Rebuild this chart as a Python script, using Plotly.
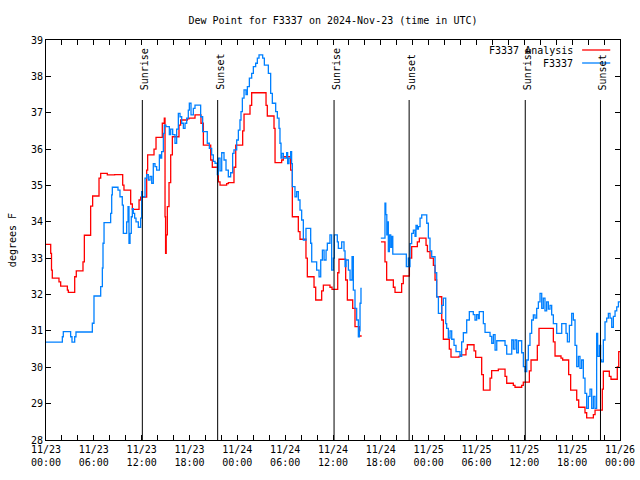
import pandas as pd
import plotly.graph_objects as go

START = pd.Timestamp("2024-11-23 00:00")

# ---- data (hours since 2024-11-23 00:00 UTC, degrees F) ----
red_hours = [0.0, 0.59, 0.69, 0.79, 1.63, 1.84, 2.68, 2.8, 3.6, 3.8, 4.64, 4.81, 5.6, 5.85,
             6.65, 6.86, 7.69, 8.61, 9.62, 9.78, 10.62, 10.83, 11.67, 11.87, 12.63, 12.75,
             13.55, 13.8, 14.59, 14.84, 14.93, 15.0, 15.08, 15.22, 15.43, 15.64, 15.85,
             16.68, 16.89, 17.73, 17.94, 18.69, 19.44, 19.74, 20.66, 20.86, 21.62, 21.83,
             22.66, 22.87, 23.58, 23.8, 24.67, 24.84, 25.59, 25.8, 27.6, 27.76, 28.6, 28.73,
             29.56, 29.77, 30.69, 30.9, 31.65, 31.86, 32.61, 32.78, 33.62, 33.83, 34.58,
             34.79, 35.62, 35.88, 36.59, 36.75, 37.59, 37.8, 38.47, 38.76, 39.3, 39.6,
             None,
             42.02, 42.52, 42.73, 43.57, 43.78, 44.61, 44.82, 45.58, 45.87, 46.58, 46.83,
             47.67, 47.84, 48.17, 48.59, 48.8, 49.0, 49.64, 49.84, 50.59, 50.8, 51.8, 52.0,
             52.68, 52.85, 53.69, 53.9, 54.65, 54.86, 55.7, 55.9, 56.74, 57.58, 57.79, 58.62,
             58.83, 59.67, 59.87, 60.63, 60.84, 61.63, 61.84, 63.64, 63.85, 64.6, 64.81,
             65.56, 65.81, 66.57, 66.82, 67.61, 67.82, 68.66, 68.87, 69.78, 69.91, 70.66,
             70.87, 71.66, 71.84, 72.0]
red_values = [33.38, 33.13, 32.67, 32.45, 32.35, 32.23, 32.12, 32.06, 32.49, 32.65, 32.9, 33.63,
              34.43, 34.71, 35.2, 35.33, 35.29, 35.3, 35.01, 34.87, 34.49, 34.34, 34.6, 34.68,
              35.42, 35.84, 36.0, 36.32, 36.71, 36.85, 34.14, 33.13, 33.64, 34.42, 35.08,
              35.84, 36.34, 36.66, 36.8, 36.83, 36.85, 36.94, 36.71, 36.11, 35.7, 35.5, 35.1,
              35.01, 35.05, 35.08, 35.5, 36.11, 36.5, 36.96, 37.2, 37.55, 37.2, 36.91, 36.57,
              35.63, 35.7, 35.79, 35.42, 34.14, 33.73, 33.52, 33.0, 32.49, 32.2, 31.85, 32.1,
              32.26, 32.2, 32.14, 32.6, 32.97, 32.4, 31.85, 31.62, 31.12, 30.86, 30.86,
              None,
              33.45, 32.9, 32.4, 32.2, 32.06, 32.3, 32.51, 33.0, 33.32, 33.45, 33.55, 33.35,
              33.18, 33.0, 32.8, 32.4, 31.94, 31.3, 30.77, 30.5, 30.28, 30.3, 30.34, 30.5,
              30.62, 30.45, 30.27, 29.8, 29.37, 29.7, 29.91, 29.95, 29.75, 29.56, 29.5, 29.45,
              29.5, 29.59, 29.9, 30.2, 30.6, 31.07, 30.7, 30.31, 30.25, 30.2, 29.8, 29.37,
              29.1, 28.9, 28.75, 28.61, 28.7, 28.82, 29.4, 29.89, 29.75, 29.67, 30.01, 30.43,
              30.43]

blue_hours = [0.0, 2.05, 2.17, 3.09, 3.26, 3.6, 3.76, 5.81, 6.02, 6.86, 7.07, 7.15, 7.28, 8.11,
              8.24, 8.32, 9.03, 9.28, 9.57, 9.7, 10.12, 10.29, 10.41, 10.54, 10.7, 10.83,
              10.95, 11.12, 11.29, 11.58, 11.87, 12.0, 12.1, 12.42, 12.63, 12.84, 13.05,
              13.26, 13.46, 13.67, 13.88, 14.22, 14.38, 14.51, 14.72, 14.84, 15.05, 15.47,
              15.64, 15.89, 16.18, 16.39, 16.6, 16.81, 17.02, 17.23, 17.44, 17.65, 17.85,
              17.98, 18.19, 18.48, 18.69, 19.4, 19.65, 20.23, 20.49, 20.78, 20.99, 21.2,
              21.49, 21.62, 21.83, 22.04, 22.33, 22.58, 22.87, 23.16, 23.41, 23.58, 23.92,
              24.13, 24.33, 24.46, 24.63, 24.84, 25.09, 25.26, 25.51, 25.8, 26.01, 26.3,
              26.51, 26.72, 27.18, 27.39, 27.89, 28.18, 28.39, 28.81, 29.02, 29.23, 29.35,
              29.48, 29.56, 29.77, 30.19, 30.31, 30.48, 30.69, 30.81, 30.9, 31.23, 31.44,
              31.65, 31.86, 32.07, 32.28, 32.61, 33.2, 33.33, 33.95, 34.25, 34.46, 34.67,
              34.88, 35.13, 35.29, 35.62, 35.83, 36.04, 36.17, 36.54, 36.67, 37.09, 37.38,
              37.51, 37.63, 37.93, 38.14, 38.39, 38.55, 38.76, 38.97, 39.18, 39.3, 39.39,
              39.51, 39.6,
              None,
              42.0, 42.52, 42.62, 42.75, 42.81, 42.94, 43.07, 43.24, 43.36, 43.5, 45.2, 45.45,
              45.58, 45.66, 45.87, 46.08, 46.29, 46.41, 46.58, 46.71, 46.92, 47.13, 47.76,
              47.96, 48.17, 48.38, 48.8, 49.01, 49.22, 49.64, 49.84, 50.14, 50.26, 50.47,
              50.68, 50.89, 51.18, 51.43, 51.93, 52.14, 52.35, 52.77, 53.1, 53.6, 53.81,
              54.02, 54.23, 54.35, 54.86, 55.07, 55.7, 55.91, 56.12, 56.33, 56.54, 57.58,
              57.79, 58.42, 58.62, 58.83, 59.04, 59.25, 59.67, 59.88, 60.09, 60.3, 60.5,
              60.71, 60.92, 61.13, 61.34, 61.55, 61.76, 61.97, 62.18, 62.38, 62.59, 62.8,
              63.01, 63.22, 63.43, 63.64, 64.06, 64.48, 64.69, 65.23, 65.4, 65.65, 65.94,
              66.15, 66.36, 66.57, 66.78, 66.98, 67.19, 67.4, 67.61, 67.82, 68.03, 68.24,
              68.45, 68.66, 68.86, 69.07, 69.2, 69.41, 69.57, 69.7, 69.91, 70.12, 70.33,
              70.54, 70.75, 70.96, 71.17, 71.38, 71.59, 71.8, 72.0]
blue_values = [30.69, 30.84, 30.98, 30.84, 30.69, 30.84, 30.97, 31.21, 31.96, 32.22, 32.73,
               33.41, 33.98, 34.23, 34.74, 34.95, 34.87, 34.69, 34.46, 33.68, 34.0, 34.42,
               33.41, 33.68, 34.14, 34.36, 34.23, 34.1, 34.0, 33.85, 34.1, 34.83, 34.69, 35.2,
               35.3, 35.15, 35.25, 35.06, 35.6, 35.52, 35.42, 35.84, 35.75, 35.93, 36.43,
               36.66, 36.62, 36.4, 36.55, 36.4, 36.16, 36.55, 36.98, 36.89, 36.71, 36.57,
               36.71, 36.85, 37.07, 37.26, 36.94, 37.12, 37.21, 36.89, 36.48, 36.16, 36.02,
               35.84, 35.66, 35.61, 35.3, 35.75, 35.4, 35.9, 35.7, 35.42, 35.24, 35.35, 35.88,
               35.98, 36.25, 36.52, 36.8, 37.03, 37.4, 37.63, 37.5, 37.72, 37.95, 38.08,
               38.27, 38.36, 38.5, 38.59, 38.5, 38.31, 38.08, 37.53, 37.26, 37.03, 36.85,
               36.57, 36.16, 35.75, 35.88, 35.75, 35.9, 35.6, 35.75, 35.93, 35.6, 34.97,
               34.69, 34.83, 34.6, 34.32, 34.05, 33.5, 33.82, 33.41, 32.9, 32.67, 32.49,
               32.95, 33.22, 32.95, 33.22, 33.41, 33.64, 32.67, 33.0, 33.64, 33.45, 33.27,
               33.45, 33.2, 32.77, 32.95, 32.67, 32.4, 33.04, 32.12, 31.62, 31.3, 30.84, 31.0,
               31.76, 32.17, 32.17,
               None,
               33.55, 34.51, 34.2, 33.64, 34.0, 33.18, 33.64, 33.3, 33.6, 33.11, 32.77, 33.0,
               32.77, 33.4, 33.68, 33.77, 33.6, 33.9, 33.8, 33.87, 34.1, 34.19, 33.96, 33.55,
               33.2, 33.04, 32.6, 31.94, 31.48, 31.7, 31.9, 31.2, 31.07, 30.8, 31.0, 30.77,
               30.6, 30.43, 30.3, 30.7, 30.95, 31.3, 31.53, 31.45, 31.3, 31.45, 31.34, 31.53,
               31.2, 30.96, 30.85, 30.66, 30.9, 30.47, 30.73, 30.6, 30.36, 30.75, 30.5,
               30.75, 30.4, 30.73, 30.4, 30.02, 29.88, 30.2, 30.6, 30.93, 31.3, 31.44, 31.35,
               31.62, 31.8, 32.03, 31.62, 31.9, 31.55, 31.8, 31.6, 31.7, 31.44, 31.2, 30.93,
               30.93, 31.2, 30.93, 30.7, 31.15, 31.48, 31.3, 30.6, 30.02, 30.3, 29.97, 30.2,
               29.7, 29.28, 28.87, 29.2, 29.4, 28.87, 29.2, 28.87, 30.93, 30.3, 30.6, 30.2,
               30.15, 30.75, 31.25, 31.35, 31.48, 31.35, 31.1, 31.4, 31.55, 31.66, 31.8,
               31.8]

sun_times = ["2024-11-23 12:05", "2024-11-23 21:32", "2024-11-24 12:08",
             "2024-11-24 21:33", "2024-11-25 12:07", "2024-11-25 21:33"]
sun_labels = ["Sunrise", "Sunset", "Sunrise", "Sunset", "Sunrise", "Sunset"]

y_ticks = list(range(28, 40))
x_tick_hours = list(range(0, 73, 2))
x_label_text = {0: "11/23<br>00:00", 6: "11/23<br>06:00", 12: "11/23<br>12:00",
                18: "11/23<br>18:00", 24: "11/24<br>00:00", 30: "11/24<br>06:00",
                36: "11/24<br>12:00", 42: "11/24<br>18:00", 48: "11/25<br>00:00",
                54: "11/25<br>06:00", 60: "11/25<br>12:00", 66: "11/25<br>18:00",
                72: "11/26<br>00:00"}

series_names = ["F3337 Analysis", "F3337"]
series_colors = ["#ff0000", "#0080ff"]


def to_time(hours):
    return [None if h is None else START + pd.Timedelta(hours=h) for h in hours]


FONT = "DejaVu Sans Mono"

fig = go.Figure()
fig.add_trace(go.Scatter(x=to_time(red_hours), y=red_values, mode="lines",
                         line=dict(color=series_colors[0], width=1.3, shape="hv"),
                         connectgaps=False, name=series_names[0], showlegend=False,
                         hoverinfo="skip"))
fig.add_trace(go.Scatter(x=to_time(blue_hours), y=blue_values, mode="lines",
                         line=dict(color=series_colors[1], width=1.3, shape="hv"),
                         connectgaps=False, name=series_names[1], showlegend=False,
                         hoverinfo="skip"))

shapes = []
annotations = []
for t, lab in zip(sun_times, sun_labels):
    ts = pd.Timestamp(t)
    shapes.append(dict(type="line", xref="x", yref="paper", x0=ts, x1=ts, y0=0, y1=0.85,
                       line=dict(color="black", width=1)))
    annotations.append(dict(x=ts, y=0.87, xref="x", yref="paper", text=lab,
                            textangle=-90, showarrow=False, xanchor="center", xshift=2,
                            yanchor="bottom", font=dict(family=FONT, size=10, color="black")))

# legend drawn gnuplot-style: text right-aligned, sample line to the right
legend_rows = [0.975, 0.9425]
for name, color, yy in zip(series_names, series_colors, legend_rows):
    annotations.append(dict(x=0.921, y=yy, xref="paper", yref="paper", text=name,
                            showarrow=False, xanchor="right", yanchor="middle",
                            font=dict(family=FONT, size=10, color="black")))
    shapes.append(dict(type="line", xref="paper", yref="paper", x0=0.934, x1=0.983,
                       y0=yy, y1=yy, line=dict(color=color, width=1.3)))

annotations.append(dict(x=-0.059, y=0.5, xref="paper", yref="paper", text="degrees F",
                        textangle=-90, showarrow=False, xanchor="center", yanchor="middle",
                        font=dict(family=FONT, size=10, color="black")))

fig.update_layout(
    width=640, height=480,
    margin=dict(l=46, r=20, t=40, b=40),
    paper_bgcolor="white", plot_bgcolor="white",
    title=dict(text="Dew Point for F3337 on 2024-Nov-23 (time in UTC)",
               x=0.5, xref="paper", xanchor="center", y=1 - 20 / 480, yanchor="middle",
               yref="container", font=dict(family=FONT, size=10, color="black")),
    shapes=shapes, annotations=annotations,
    font=dict(family=FONT, size=10, color="black"),
    hovermode=False,
)
fig.update_xaxes(
    range=[START, START + pd.Timedelta(hours=72)],
    tickvals=[START + pd.Timedelta(hours=h) for h in x_tick_hours],
    ticktext=[x_label_text.get(h, "") for h in x_tick_hours],
    ticks="inside", ticklen=5, tickcolor="black", tickwidth=1,
    showline=True, linecolor="black", linewidth=1, mirror="allticks",
    showgrid=False, zeroline=False, automargin=False,
    tickfont=dict(family=FONT, size=10, color="black"),
)
fig.update_yaxes(
    range=[28, 39], tickvals=y_ticks, ticktext=[str(v) for v in y_ticks],
    ticks="inside", ticklen=5, tickcolor="black", tickwidth=1,
    showline=True, linecolor="black", linewidth=1, mirror="allticks",
    showgrid=False, zeroline=False, automargin=False,
    tickfont=dict(family=FONT, size=10, color="black"),
)

fig.write_html("out.html", config={"displayModeBar": False},
               post_script="document.body.style.margin='0';document.body.style.overflow='hidden';")
